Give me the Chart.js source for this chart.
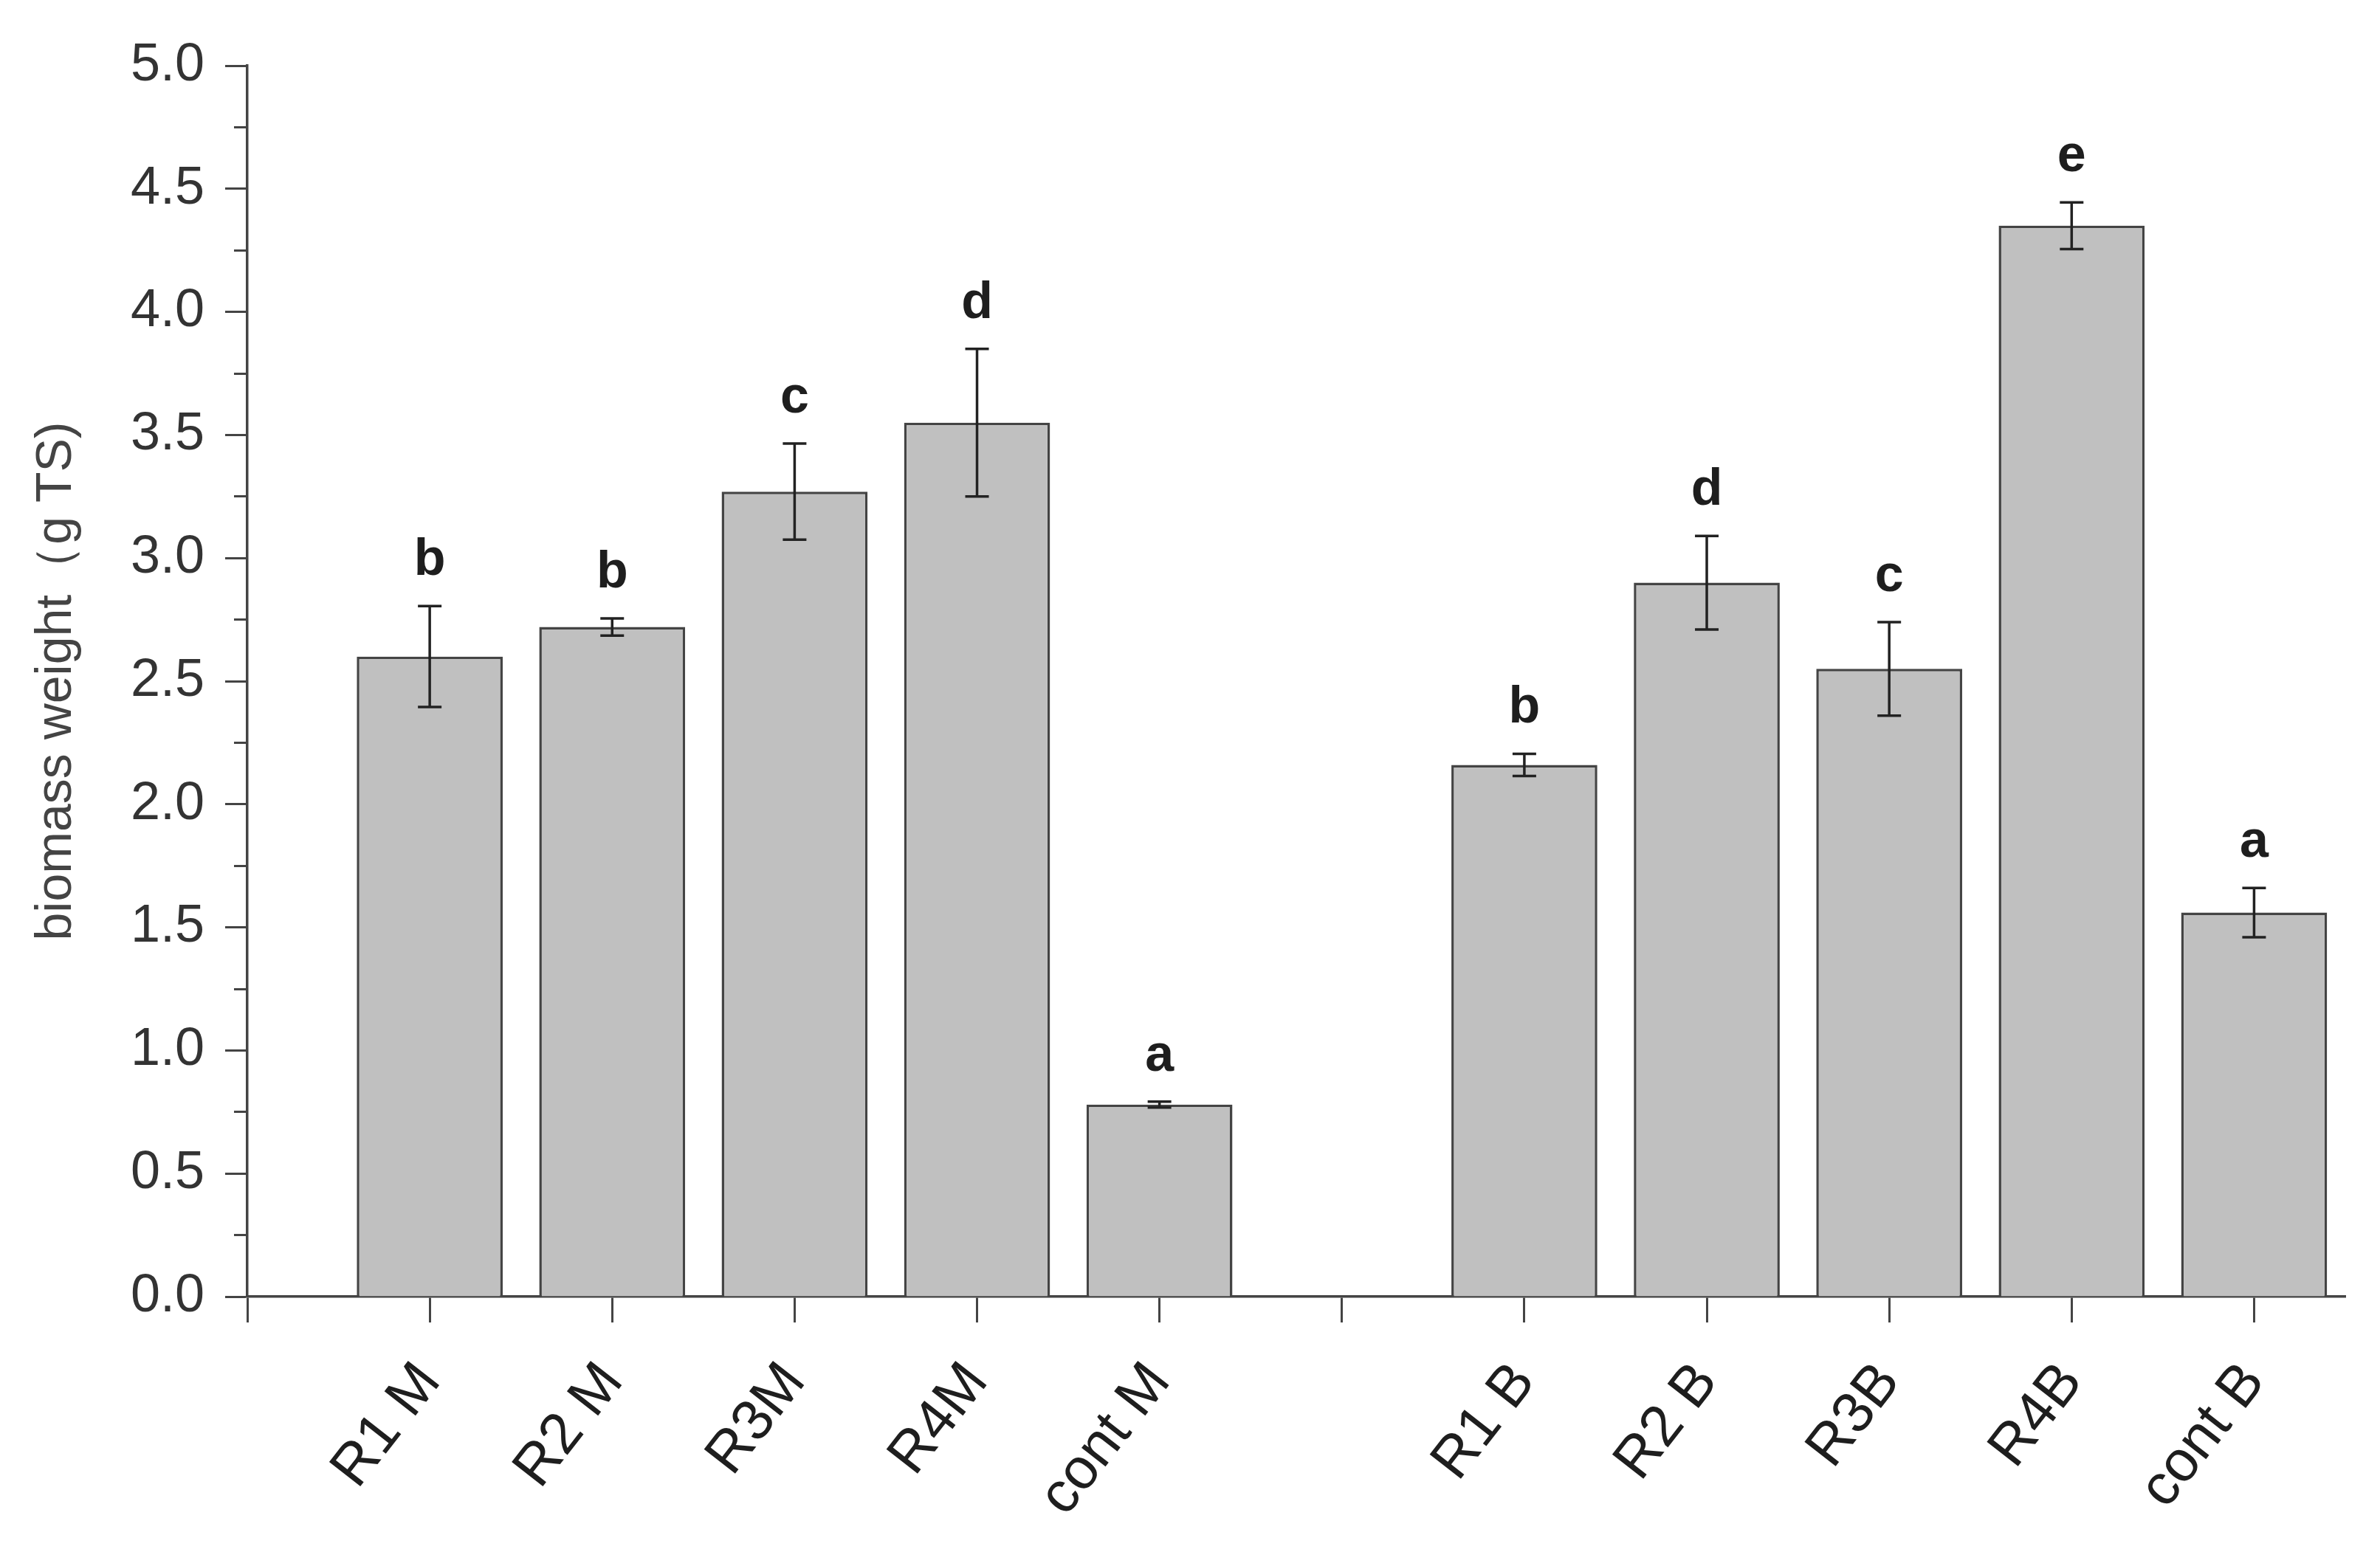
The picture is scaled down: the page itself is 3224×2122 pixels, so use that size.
<!DOCTYPE html>
<html>
<head>
<meta charset="utf-8">
<script src="https://cdn.jsdelivr.net/npm/chart.js@4/dist/chart.umd.min.js"></script>
<style>
  body { margin: 0; background: #fff; }
</style>
</head>
<body>
<canvas id="myChart" width="3224" height="2122"></canvas>
<script>
// one empty slot between the M group and the B group
var categories = ['R1 M', 'R2 M', 'R3M', 'R4M', 'cont M', '', 'R1 B', 'R2 B', 'R3B', 'R4B', 'cont B'];
var biomass    = [2.60, 2.72, 3.27, 3.55, 0.78, null, 2.16, 2.90, 2.55, 4.35, 1.56];
var errors     = [0.205, 0.035, 0.195, 0.30, 0.012, null, 0.045, 0.19, 0.19, 0.095, 0.10];
var letters    = ['b', 'b', 'c', 'd', 'a', '', 'b', 'd', 'c', 'e', 'a'];

var yMin = 0, yMax = 5, yMajor = 0.5, yMinor = 0.25;

var FONT = '"Liberation Sans", Arial, sans-serif';

var points = [];
categories.forEach(function (c, i) {
    if (biomass[i] !== null) points.push({ x: i + 1, y: biomass[i] });
});

function isMajor(v) {
    return Math.abs(v / yMajor - Math.round(v / yMajor)) < 1e-6;
}

// error bars and significance letters
var annotate = {
    id: 'annotate',
    afterDatasetsDraw: function (chart) {
        var ctx = chart.ctx;
        var x = chart.scales.x, y = chart.scales.y;
        ctx.save();
        ctx.strokeStyle = '#222';
        ctx.lineWidth = 3.5;
        ctx.fillStyle = '#1e1e1e';
        ctx.font = 'bold 70px ' + FONT;
        ctx.textAlign = 'center';
        ctx.textBaseline = 'alphabetic';
        categories.forEach(function (c, i) {
            if (biomass[i] === null) return;
            var px = x.getPixelForValue(i + 1);
            var top = y.getPixelForValue(biomass[i] + errors[i]);
            var bot = y.getPixelForValue(biomass[i] - errors[i]);
            ctx.beginPath();
            ctx.moveTo(px, top); ctx.lineTo(px, bot);
            ctx.moveTo(px - 16, top); ctx.lineTo(px + 16, top);
            ctx.moveTo(px - 16, bot); ctx.lineTo(px + 16, bot);
            ctx.stroke();
            ctx.fillText(letters[i], px, top - 42);
        });
        ctx.restore();
    }
};

var ctx = document.getElementById('myChart').getContext('2d');
var myChart = new Chart(ctx, {
    type: 'bar',
    data: {
        datasets: [{
            data: points,
            backgroundColor: '#c0c0c0',
            borderColor: '#444',
            borderWidth: 3.5,
            barPercentage: 1,
            categoryPercentage: 0.8
        }]
    },
    plugins: [annotate],
    options: {
        responsive: false,
        animation: false,
        devicePixelRatio: 1,
        layout: { padding: { top: 89, right: 47, left: 0, bottom: 0 } },
        plugins: {
            legend: { display: false },
            tooltip: { enabled: false }
        },
        scales: {
            x: {
                type: 'linear',
                min: 0,
                max: 11.5,
                offset: false,
                grid: { offset: false, drawOnChartArea: false, tickLength: 35, tickWidth: 3, tickColor: '#444' },
                border: { color: '#444', width: 3.5 },
                ticks: {
                    stepSize: 1,
                    autoSkip: false,
                    includeBounds: false,
                    minRotation: 52,
                    maxRotation: 52,
                    padding: 38,
                    color: '#1e1e1e',
                    font: { family: FONT, size: 78 },
                    callback: function (v) { return categories[v - 1] || ''; }
                },
                afterFit: function (s) { s.height = 365; }
            },
            y: {
                min: yMin,
                max: yMax,
                grid: {
                    drawOnChartArea: false,
                    tickLength: 30,
                    tickWidth: 3,
                    tickColor: '#444',
                    tickBorderDash: function (c) { return isMajor(c.tick.value) ? [] : [0, 12, 18]; }
                },
                border: { color: '#444', width: 3.5 },
                ticks: {
                    stepSize: yMinor,
                    autoSkip: false,
                    padding: 28,
                    color: '#333',
                    font: { family: FONT, size: 72 },
                    callback: function (v) { return isMajor(v) ? v.toFixed(1) : ''; }
                },
                title: {
                    display: true,
                    text: 'biomass weight（g TS)',
                    color: '#444',
                    font: { family: FONT, size: 68 },
                    padding: { top: 36, bottom: 0 }
                },
                afterFit: function (s) { s.width = 335; }
            }
        }
    }
});
</script>
</body>
</html>
